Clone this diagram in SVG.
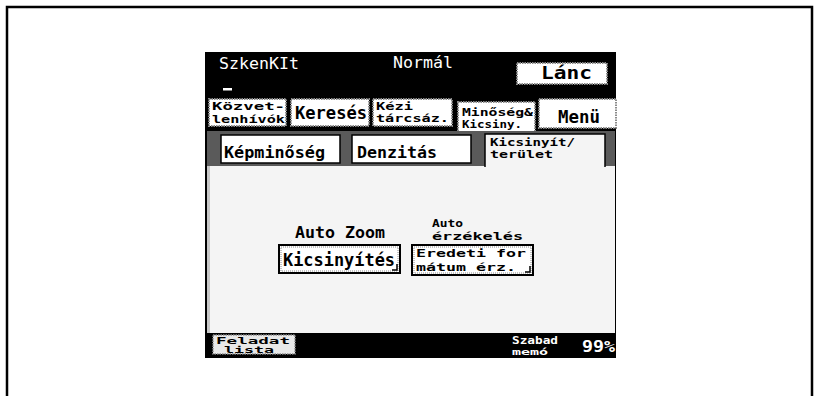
<svg xmlns="http://www.w3.org/2000/svg" width="818" height="396" viewBox="0 0 818 396">
<style>
.t{font-family:"DejaVu Sans Mono","Liberation Mono",monospace;font-weight:bold;fill:#000}
.w{font-family:"DejaVu Sans Mono","Liberation Mono",monospace;fill:#fff}
.btn{fill:#fff;stroke:#8a8a8a;stroke-width:2;stroke-dasharray:1.5 1}
.sub{fill:#fff;stroke:#000;stroke-width:1.5}
</style>
<rect width="818" height="396" fill="#fff"/>
<path d="M7 396 V7 H812 V396" fill="none" stroke="#000" stroke-width="2.5"/>
<g id="screen">
<rect x="205" y="52" width="411" height="306" fill="#000"/>
</g>
<g id="header">
<text class="w" x="219" y="69" font-size="16" textLength="80" lengthAdjust="spacingAndGlyphs">SzkenKIt</text>
<text class="w" x="393" y="68" font-size="16" textLength="60" lengthAdjust="spacingAndGlyphs">Normál</text>
<rect x="223" y="88" width="9" height="2.5" fill="#fff"/>
</g>
<g id="lanc">
<rect class="btn" x="517" y="63" width="90" height="21"/>
<text class="t" x="541" y="79" font-size="17" textLength="51" lengthAdjust="spacingAndGlyphs">Lánc</text>
</g>
<g id="tab-kozvet">
<rect class="btn" x="209" y="99" width="77" height="27"/>
<text class="t" x="212" y="110" font-size="11" textLength="73" lengthAdjust="spacingAndGlyphs">Közvet-</text>
<text class="t" x="212" y="123" font-size="11" textLength="73" lengthAdjust="spacingAndGlyphs">lenhívók</text>
</g>
<g id="tab-kereses">
<rect class="btn" x="291" y="99" width="78" height="27"/>
<text class="t" x="295" y="119" font-size="17" textLength="72" lengthAdjust="spacingAndGlyphs">Keresés</text>
</g>
<g id="tab-kezi">
<rect class="btn" x="373" y="99" width="79" height="27"/>
<text class="t" x="376" y="110" font-size="11" textLength="37" lengthAdjust="spacingAndGlyphs">Kézi</text>
<text class="t" x="376" y="122" font-size="11" textLength="73" lengthAdjust="spacingAndGlyphs">tárcsáz.</text>
</g>
<g id="tab-minoseg">
<rect class="btn" x="458" y="102" width="77" height="30"/>
<text class="t" x="462" y="116" font-size="11" textLength="71" lengthAdjust="spacingAndGlyphs">Minőség&amp;</text>
<text class="t" x="462" y="128" font-size="11" textLength="60" lengthAdjust="spacingAndGlyphs">Kicsiny.</text>
</g>
<g id="tab-menu">
<rect class="btn" x="539" y="99" width="77" height="29"/>
<text class="t" x="558" y="123" font-size="17" textLength="42" lengthAdjust="spacingAndGlyphs">Menü</text>
</g>
<g id="subtab-row">
<rect x="207" y="131" width="408" height="35" fill="#5a5a5a"/>
<rect x="207" y="166" width="408" height="167" fill="#f4f4f4"/>
<rect x="207" y="166" width="3" height="167" fill="#c8c8c8"/>
</g>
<g id="subtab-kepminoseg">
<rect class="sub" x="221" y="135" width="119" height="28"/>
<text class="t" x="224" y="158" font-size="16" textLength="101" lengthAdjust="spacingAndGlyphs">Képminőség</text>
</g>
<g id="subtab-denzitas">
<rect class="sub" x="352" y="135" width="119" height="28"/>
<text class="t" x="357" y="158" font-size="16" textLength="80" lengthAdjust="spacingAndGlyphs">Denzitás</text>
</g>
<g id="subtab-kicsinyit">
<path d="M485 167 V134 H605 V167" fill="#f4f4f4" stroke="#000" stroke-width="1.5"/>
<text class="t" x="490" y="146" font-size="10.5" textLength="85" lengthAdjust="spacingAndGlyphs">Kicsinyít/</text>
<text class="t" x="490" y="158" font-size="10.5" textLength="63" lengthAdjust="spacingAndGlyphs">terület</text>
</g>
<g id="auto-zoom">
<text class="t" x="295" y="238" font-size="15" textLength="90" lengthAdjust="spacingAndGlyphs">Auto Zoom</text>
<rect x="279" y="245" width="121" height="28" fill="#fff" stroke="#000" stroke-width="2"/>
<rect x="281" y="247" width="117" height="24" fill="none" stroke="#8a8a8a" stroke-width="1" stroke-dasharray="1 1"/>
<text class="t" x="283" y="266" font-size="18" textLength="112" lengthAdjust="spacingAndGlyphs">Kicsinyítés</text>
<path d="M392 270 H397 V264" fill="none" stroke="#000" stroke-width="1.5"/>
</g>
<g id="auto-erzekeles">
<text class="t" x="432" y="227" font-size="11" textLength="31" lengthAdjust="spacingAndGlyphs">Auto</text>
<text class="t" x="432" y="240" font-size="11" textLength="91" lengthAdjust="spacingAndGlyphs">érzékelés</text>
<rect x="412" y="245" width="121" height="30" fill="#fff" stroke="#000" stroke-width="2"/>
<rect x="414" y="247" width="117" height="26" fill="none" stroke="#8a8a8a" stroke-width="1" stroke-dasharray="1 1"/>
<text class="t" x="416" y="257" font-size="11" textLength="110" lengthAdjust="spacingAndGlyphs">Eredeti for</text>
<text class="t" x="416" y="270.5" font-size="11" textLength="100" lengthAdjust="spacingAndGlyphs">mátum érz.</text>
<path d="M525 272 H530 V266" fill="none" stroke="#000" stroke-width="1.5"/>
</g>
<g id="footer">
<rect x="213" y="335" width="82" height="19" fill="#e8e8e8" stroke="#8a8a8a" stroke-width="1.5" stroke-dasharray="1.5 1"/>
<text class="t" x="216" y="344" font-size="9.5" textLength="74" lengthAdjust="spacingAndGlyphs">Feladat</text>
<text class="t" x="224" y="353" font-size="9" textLength="50" lengthAdjust="spacingAndGlyphs">lista</text>
<text class="w" font-weight="bold" x="512" y="344" font-size="10.5" textLength="46" lengthAdjust="spacingAndGlyphs">Szabad</text>
<text class="w" font-weight="bold" x="512" y="355" font-size="9.5" textLength="36" lengthAdjust="spacingAndGlyphs">memó</text>
<text class="w" font-weight="bold" x="582" y="352" font-size="15" textLength="33" lengthAdjust="spacingAndGlyphs">99%</text>
</g>
</svg>
